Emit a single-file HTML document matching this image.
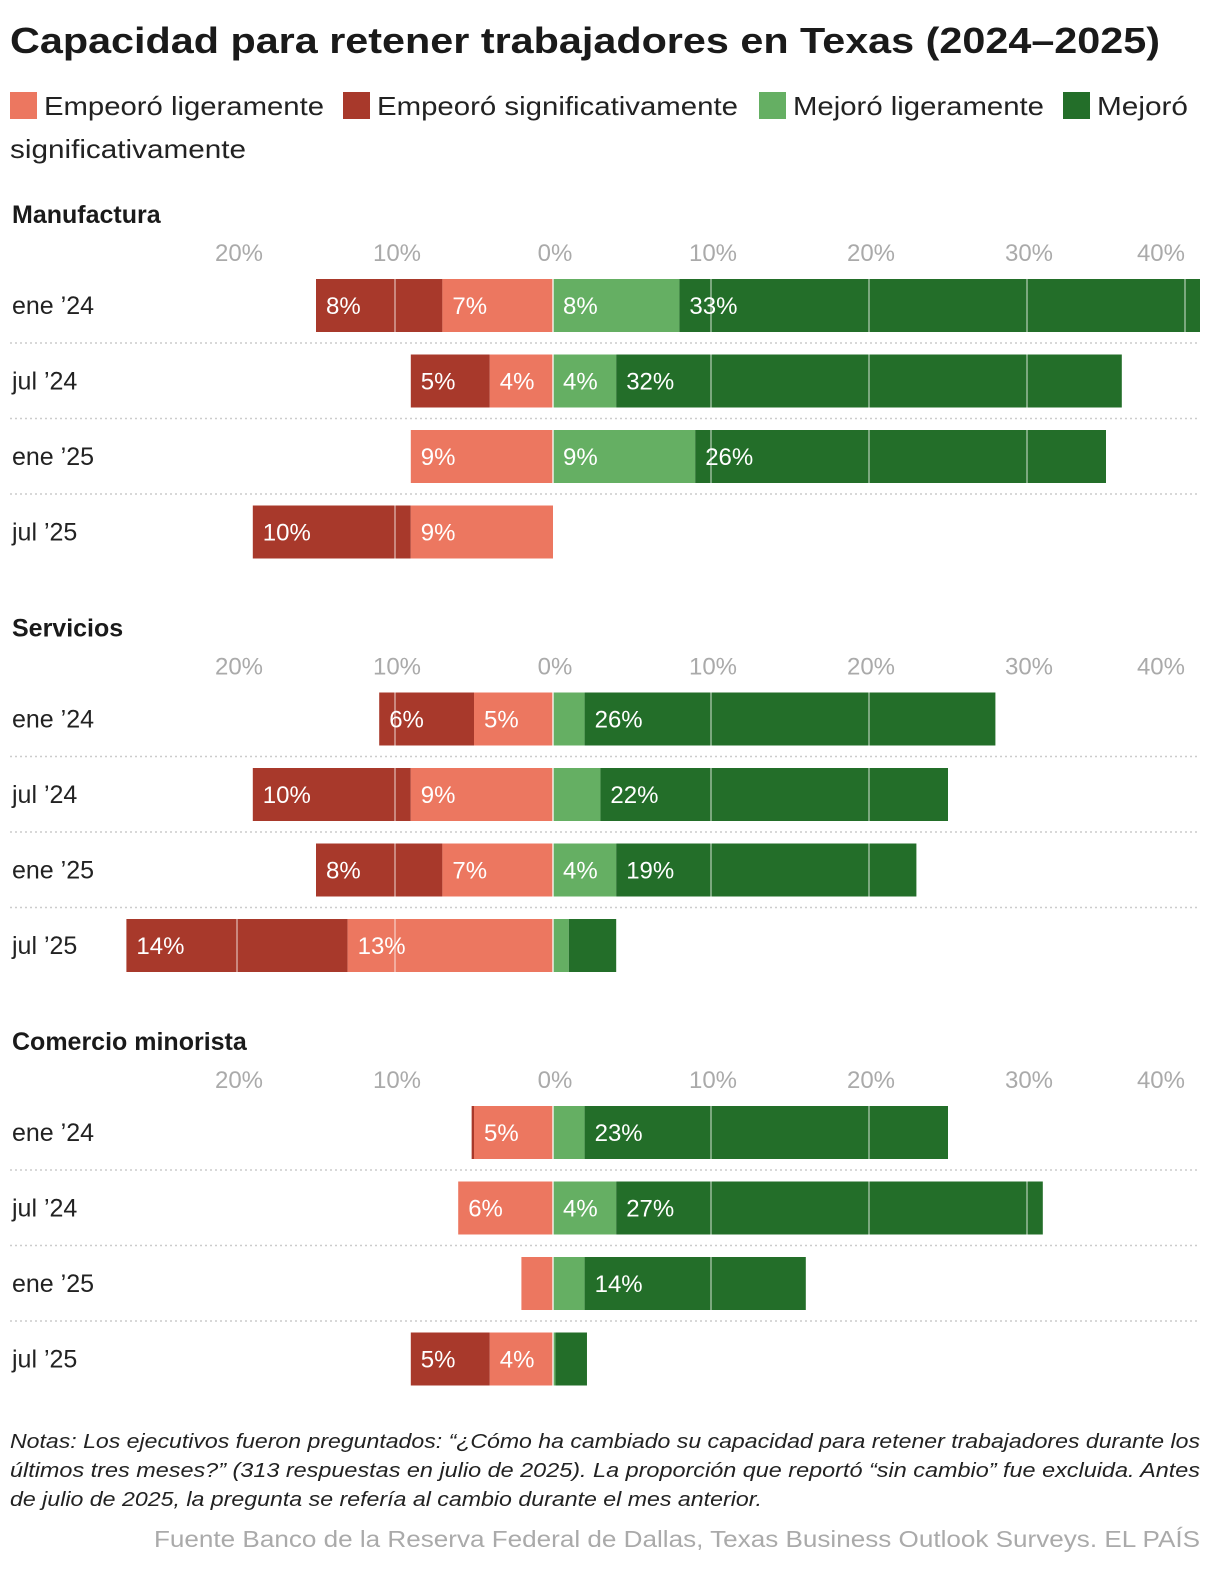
<!DOCTYPE html>
<html><head><meta charset="utf-8"><style>
body{margin:0;background:#fff}
svg text{font-family:"Liberation Sans",sans-serif}
</style></head><body>
<svg id="chart" width="1220" height="1578" viewBox="0 0 1220 1578" xmlns="http://www.w3.org/2000/svg">
<text x="10" y="53" font-size="36" font-weight="bold" fill="#1a1a1a" textLength="1150" lengthAdjust="spacingAndGlyphs">Capacidad para retener trabajadores en Texas (2024–2025)</text>
<g font-size="26" fill="#222">
<rect x="10" y="92" width="27" height="27" fill="#ec7760"/>
<text x="44" y="115" textLength="280" lengthAdjust="spacingAndGlyphs">Empeoró ligeramente</text>
<rect x="343" y="92" width="27" height="27" fill="#a8392b"/>
<text x="377" y="115" textLength="361" lengthAdjust="spacingAndGlyphs">Empeoró significativamente</text>
<rect x="759" y="92" width="27" height="27" fill="#65af63"/>
<text x="793" y="115" textLength="251" lengthAdjust="spacingAndGlyphs">Mejoró ligeramente</text>
<rect x="1063" y="92" width="27" height="27" fill="#236e29"/>
<text x="1097" y="115" textLength="91" lengthAdjust="spacingAndGlyphs">Mejoró</text>
<text x="10" y="158" textLength="236" lengthAdjust="spacingAndGlyphs">significativamente</text>
</g>
<g id="panels"></g>
<g font-size="20" font-style="italic" fill="#222">
<text x="10" y="1448" textLength="1190" lengthAdjust="spacingAndGlyphs">Notas: Los ejecutivos fueron preguntados: “¿Cómo ha cambiado su capacidad para retener trabajadores durante los</text>
<text x="10" y="1477" textLength="1190" lengthAdjust="spacingAndGlyphs">últimos tres meses?” (313 respuestas en julio de 2025). La proporción que reportó “sin cambio” fue excluida. Antes</text>
<text x="10" y="1506" textLength="752" lengthAdjust="spacingAndGlyphs">de julio de 2025, la pregunta se refería al cambio durante el mes anterior.</text>
</g>
<text x="1200" y="1547" text-anchor="end" font-size="23" fill="#aaa" textLength="1046" lengthAdjust="spacingAndGlyphs">Fuente Banco de la Reserva Federal de Dallas, Texas Business Outlook Surveys. EL PAÍS</text>
</svg>
<script>
const sectors = ["Manufactura", "Servicios", "Comercio minorista"];
const periods = ["ene ’24", "jul ’24", "ene ’25", "jul ’25"];
// [sector][period]
const worseSig = [[8,5,0,10],[6,10,8,14],[0.15,0,0,5]];
const worseSlight = [[7,4,9,9],[5,9,7,13],[5,6,2,4]];
const betterSlight = [[8,4,9,0],[2,3,4,1],[2,4,2,0.15]];
const betterSig = [[33,32,26,0],[26,22,19,3],[23,27,14,2]];
const tickValues = [-20,-10,0,10,20,30,40];
const tickLabels = ["20%","10%","0%","10%","20%","30%","40%"];

const NS = "http://www.w3.org/2000/svg";
const x0 = 553, pxPer = 15.8;
const xs = v => x0 + v * pxPer;
const root = document.getElementById("panels");
const colors = {ws:"#a8392b", wl:"#ec7760", bl:"#65af63", bs:"#236e29"};
function mk(tag, attrs, parent){
  const e = document.createElementNS(NS, tag);
  for (const k in attrs) e.setAttribute(k, attrs[k]);
  parent.appendChild(e); return e;
}
sectors.forEach((s, si) => {
  const off = si * 413.5;
  const g = mk("g", {}, root);
  
  
  const t = mk("text", {x:12, y:223+off, "font-size":25, "font-weight":"bold", fill:"#1a1a1a"}, g);
  
  
  t.textContent = s;
  tickValues.forEach((v, i) => {
    const last = i === tickValues.length - 1;
    const tk = mk("text", {x: last ? xs(v) : xs(v)+2, y:261+off, "font-size":24, fill:"#aaa", "text-anchor": last ? "end" : "middle"}, g);
    
    
    tk.textContent = tickLabels[i];
  });
  periods.forEach((p, pi) => {
    const cy = 305 + off + pi * 75.5;
    const top = cy - 26;
    const lab = mk("text", {x:12, y:cy+9, "font-size":25, fill:"#222"}, g);
    
    
    lab.textContent = p;
    if (pi < 3) {
      const ln = mk("line", {x1:10, x2:1200, y1:cy+38, y2:cy+38, stroke:"#ccc", "stroke-width":1.5, "stroke-dasharray":"2,3"}, g);
      
      
    }
    const segs = [
      {k:"ws", a:-(worseSlight[si][pi]+worseSig[si][pi]), b:-worseSlight[si][pi], v:worseSig[si][pi]},
      {k:"wl", a:-worseSlight[si][pi], b:0, v:worseSlight[si][pi]},
      {k:"bl", a:0, b:betterSlight[si][pi], v:betterSlight[si][pi]},
      {k:"bs", a:betterSlight[si][pi], b:betterSlight[si][pi]+betterSig[si][pi], v:betterSig[si][pi]}
    ];
    segs.forEach(sg => {
      if (sg.v <= 0) return;
      const x1 = xs(sg.a), x2 = Math.min(xs(sg.b), 1200);
      const r = mk("rect", {x:x1, y:top, width:x2-x1, height:53, fill:colors[sg.k]}, g);
      
      
    });
    tickValues.concat([0]).forEach(v => {
      const gx = xs(v);
      const segMin = xs(segs[0].a), segMax = xs(segs[3].b);
      if (gx > segMin && gx < segMax) {
        const gl = mk("line", {x1:gx, x2:gx, y1:top, y2:top+53, stroke:"rgba(255,255,255,0.4)", "stroke-width":2}, g);
        
        
      }
    });
    segs.forEach(sg => {
      if (sg.v < 4) return;
      const vt = mk("text", {x:xs(sg.a)+10, y:cy+9, "font-size":24, fill:"#fff"}, g);
      
      
      vt.textContent = Math.round(sg.v) + "%";
    });
  });
});
</script>
</body></html>
